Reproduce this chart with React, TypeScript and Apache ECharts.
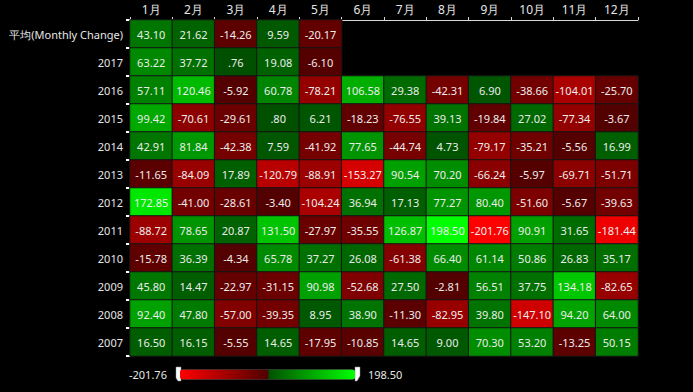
import React, { useEffect, useRef } from "react";
import * as echarts from "echarts";

const months = ["1月", "2月", "3月", "4月", "5月", "6月", "7月", "8月", "9月", "10月", "11月", "12月"];
const rows = ["平均(Monthly Change)", "2017", "2016", "2015", "2014", "2013", "2012", "2011", "2010", "2009", "2008", "2007"];

const avg = [43.10, 21.62, -14.26, 9.59, -20.17];
const y2017 = [63.22, 37.72, 0.76, 19.08, -6.10];
const y2016 = [57.11, 120.46, -5.92, 60.78, -78.21, 106.58, 29.38, -42.31, 6.90, -38.66, -104.01, -25.70];
const y2015 = [99.42, -70.61, -29.61, 0.80, 6.21, -18.23, -76.55, 39.13, -19.84, 27.02, -77.34, -3.67];
const y2014 = [42.91, 81.84, -42.38, 7.59, -41.92, 77.65, -44.74, 4.73, -79.17, -35.21, -5.56, 16.99];
const y2013 = [-11.65, -84.09, 17.89, -120.79, -88.91, -153.27, 90.54, 70.20, -66.24, -5.97, -69.71, -51.71];
const y2012 = [172.85, -41.00, -28.61, -3.40, -104.24, 36.94, 17.13, 77.27, 80.40, -51.60, -5.67, -39.63];
const y2011 = [-88.72, 78.65, 20.87, 131.50, -27.97, -35.55, 126.87, 198.50, -201.76, 90.91, 31.65, -181.44];
const y2010 = [-15.78, 36.39, -4.34, 65.78, 37.27, 26.08, -61.38, 66.40, 61.14, 50.86, 26.83, 35.17];
const y2009 = [45.80, 14.47, -22.97, -31.15, 90.98, -52.68, 27.50, -2.81, 56.51, 37.75, 134.18, -82.65];
const y2008 = [92.40, 47.80, -57.00, -39.35, 8.95, 38.90, -11.30, -82.95, 39.80, -147.10, 94.20, 64.00];
const y2007 = [16.50, 16.15, -5.55, 14.65, -17.95, -10.85, 14.65, 9.00, 70.30, 53.20, -13.25, 50.15];

const rowValues = [avg, y2017, y2016, y2015, y2014, y2013, y2012, y2011, y2010, y2009, y2008, y2007];

const vMin = -201.76;
const vMax = 198.5;
const rangeText = ["198.50", "-201.76"];

function fmt(v: number): string {
  let s = Math.abs(v).toFixed(2);
  if (s.startsWith("0.")) s = s.slice(1);
  return (v < 0 ? "-" : "") + s;
}

function buildStops(n: number): string[] {
  const out: string[] = [];
  for (let i = 0; i < n; i++) {
    const v = vMin + ((vMax - vMin) * i) / (n - 1);
    if (v < 0) {
      const t = v / vMin;
      const r = Math.round(80 + t * 175);
      out.push(`rgb(${r},0,0)`);
    } else {
      const t = v / vMax;
      const g = Math.round(80 + t * 175);
      out.push(`rgb(0,${g},0)`);
    }
  }
  return out;
}

export default function App() {
  const ref = useRef<HTMLDivElement>(null);
  useEffect(() => {
    if (!ref.current) return;
    const chart = echarts.init(ref.current, undefined, { renderer: "svg" });
    const data: [number, number, number][] = [];
    rowValues.forEach((vals, r) => {
      vals.forEach((v, c) => data.push([c, r, v]));
    });
    const font = "'Noto Sans', sans-serif";
    chart.setOption({
      animation: false,
      backgroundColor: "#000000",
      grid: { left: 130, right: 55, top: 20, bottom: 36 },
      xAxis: {
        type: "category",
        data: months,
        position: "top",
        axisLine: { lineStyle: { color: "#d8d8d8", width: 1 } },
        axisTick: { show: true, length: 3, lineStyle: { color: "#d8d8d8" } },
        axisLabel: { color: "#e6e6e6", fontSize: 12, fontFamily: font, margin: 5 },
        splitArea: { show: false },
      },
      yAxis: {
        type: "category",
        data: rows,
        inverse: true,
        axisLine: { lineStyle: { color: "#d8d8d8", width: 1 } },
        axisTick: { show: true, length: 4, lineStyle: { color: "#ffffff", width: 2 } },
        axisLabel: { color: "#e6e6e6", fontSize: 11, fontFamily: font, margin: 7 },
        splitArea: { show: false },
      },
      visualMap: {
        type: "continuous",
        min: vMin,
        max: vMax,
        calculable: false,
        orient: "horizontal",
        padding: 0,
        left: 129,
        top: 369,
        itemWidth: 10,
        itemHeight: 175,
        text: rangeText,
        textGap: 13,
        textStyle: { color: "#e6e6e6", fontSize: 11, fontFamily: font },
        inRange: { color: buildStops(201) },
      },
      graphic: [
        {
          type: "polygon",
          shape: { points: [[176, 367], [181, 367], [181, 381], [178, 381], [176, 378]] },
          style: { fill: "#ffffff", stroke: "#888", lineWidth: 0.5 },
        },
        {
          type: "polygon",
          shape: { points: [[355, 367], [360, 367], [360, 376], [357, 381], [355, 381]] },
          style: { fill: "#ffffff", stroke: "#888", lineWidth: 0.5 },
        },
      ],
      series: [
        {
          type: "heatmap",
          data,
          label: {
            show: true,
            color: "#ececec",
            fontSize: 11,
            fontFamily: font,
            formatter: (p: any) => fmt(p.value[2]),
          },
          itemStyle: { borderColor: "#141414", borderWidth: 1 },
        },
      ],
    });
    return () => chart.dispose();
  }, []);
  return (
    <div
      ref={ref}
      style={{ position: "fixed", left: 0, top: 0, width: 693, height: 392 }}
    />
  );
}
